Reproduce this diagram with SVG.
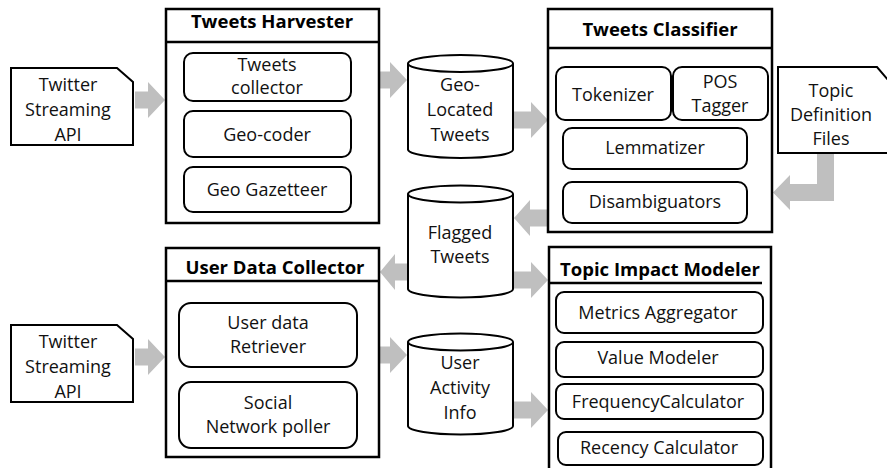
<svg xmlns="http://www.w3.org/2000/svg" width="887" height="468" viewBox="0 0 887 468">
<style>
  .outer { fill: #fff; stroke: #000; stroke-width: 2.5; }
  .inner { fill: #fff; stroke: #000; stroke-width: 2; }
  .line { stroke: #000; stroke-width: 2.5; fill: none; }
  .db { fill: #fff; stroke: #000; stroke-width: 2; }
  .arrow { fill: #BFBFBF; stroke: none; }
  text { font-family: "Open Sans", "Noto Sans", "Liberation Sans", sans-serif; font-size: 18px; fill: #111; text-anchor: middle; }
  .title { font-weight: bold; font-size: 18.5px; fill: #000; }
</style>
<rect width="887" height="468" fill="#fff"/>

<g id="connectors">
  <polygon class="arrow" points="135,91.5 148,91.5 148,82 165,100 148,118 148,108.5 135,108.5"/>
  <polygon class="arrow" points="380,71.5 390,71.5 390,62 407,80 390,98 390,88.5 380,88.5"/>
  <polygon class="arrow" points="514,111.5 531,111.5 531,102 548,120 531,138 531,128.5 514,128.5"/>
  <polygon class="arrow" points="548,209.5 530,209.5 530,200 514,218 530,236 530,226.5 548,226.5"/>
  <polygon class="arrow" points="408,263.5 395,263.5 395,254 380,272 395,290 395,280.5 408,280.5"/>
  <polygon class="arrow" points="514,271.5 531,271.5 531,262 548,280 531,298 531,288.5 514,288.5"/>
  <polygon class="arrow" points="135,348.5 148,348.5 148,339 165,357 148,375 148,365.5 135,365.5"/>
  <polygon class="arrow" points="380,346.5 390,346.5 390,337 407,355 390,373 390,363.5 380,363.5"/>
  <polygon class="arrow" points="514,401.5 531,401.5 531,392 548,410 531,428 531,418.5 514,418.5"/>
  <polygon class="arrow" points="817,153 834,153 834,201 790,201 790,210 773,192.5 790,175 790,184 817,184"/>
</g>

<g id="twitter-api-1">
  <path class="inner" d="M11,68 H117 L133,82 V145 H11 Z"/>
  <text x="68" y="91">Twitter</text>
  <text x="68" y="116">Streaming</text>
  <text x="68" y="141">API</text>
</g>

<g id="tweets-harvester">
  <rect class="outer" x="166" y="9" width="213" height="214"/>
  <line class="line" x1="166" y1="42" x2="379" y2="42"/>
  <text class="title" x="272" y="28">Tweets Harvester</text>
  <rect class="inner" x="184" y="53" width="167" height="48" rx="9"/>
  <text x="267" y="71">Tweets</text>
  <text x="267" y="94">collector</text>
  <rect class="inner" x="184" y="111" width="167" height="46" rx="9"/>
  <text x="267" y="141">Geo-coder</text>
  <rect class="inner" x="184" y="167" width="167" height="45" rx="9"/>
  <text x="267" y="196">Geo Gazetteer</text>
</g>

<g id="geo-located-tweets">
  <path class="db" d="M408,63.5 V149.5 A52.5,8.5 0 0 0 513,149.5 V63.5"/>
  <ellipse class="db" cx="460.5" cy="63.5" rx="52.5" ry="8.5"/>
  <text x="460" y="91">Geo-</text>
  <text x="460" y="116">Located</text>
  <text x="460" y="141">Tweets</text>
</g>

<g id="tweets-classifier">
  <rect class="outer" x="548" y="9" width="224" height="223"/>
  <line class="line" x1="548" y1="48" x2="772" y2="48"/>
  <text class="title" x="660" y="36">Tweets Classifier</text>
  <rect class="inner" x="556" y="67" width="115" height="53" rx="9"/>
  <text x="613" y="101">Tokenizer</text>
  <rect class="inner" x="673" y="67" width="95" height="53" rx="9"/>
  <text x="720" y="88">POS</text>
  <text x="720" y="112">Tagger</text>
  <rect class="inner" x="563" y="128" width="184" height="41" rx="9"/>
  <text x="655" y="154">Lemmatizer</text>
  <rect class="inner" x="563" y="182" width="184" height="41" rx="9"/>
  <text x="655" y="208">Disambiguators</text>
</g>

<g id="topic-definition-files">
  <path class="inner" d="M778,67 H877 L888,80 V153 H778 Z"/>
  <text x="831" y="97">Topic</text>
  <text x="831" y="121">Definition</text>
  <text x="831" y="145">Files</text>
</g>

<g id="flagged-tweets">
  <path class="db" d="M408,194 V289 A52.5,8.5 0 0 0 513,289 V194"/>
  <ellipse class="db" cx="460.5" cy="194" rx="52.5" ry="8.5"/>
  <text x="460" y="239">Flagged</text>
  <text x="460" y="263">Tweets</text>
</g>

<g id="twitter-api-2">
  <path class="inner" d="M11,325 H117 L133,339 V402 H11 Z"/>
  <text x="68" y="348">Twitter</text>
  <text x="68" y="373">Streaming</text>
  <text x="68" y="398">API</text>
</g>

<g id="user-data-collector">
  <rect class="outer" x="166" y="248" width="213" height="209"/>
  <line class="line" x1="166" y1="281" x2="379" y2="281"/>
  <text class="title" x="275" y="274">User Data Collector</text>
  <rect class="inner" x="179" y="303" width="178" height="64" rx="12"/>
  <text x="268" y="329">User data</text>
  <text x="268" y="353">Retriever</text>
  <rect class="inner" x="179" y="382" width="178" height="66" rx="12"/>
  <text x="268" y="409">Social</text>
  <text x="268" y="433">Network poller</text>
</g>

<g id="user-activity-info">
  <path class="db" d="M408,342 V426 A52.5,8.5 0 0 0 513,426 V342"/>
  <ellipse class="db" cx="460.5" cy="342" rx="52.5" ry="8.5"/>
  <text x="460" y="369">User</text>
  <text x="460" y="394">Activity</text>
  <text x="460" y="419">Info</text>
</g>

<g id="topic-impact-modeler">
  <path class="line" d="M549,472 V247 H771 V472"/>
  <line class="line" x1="549" y1="283" x2="762" y2="283"/>
  <text class="title" x="660" y="276">Topic Impact Modeler</text>
  <rect class="inner" x="556" y="292" width="207" height="41" rx="8"/>
  <text x="658" y="319">Metrics Aggregator</text>
  <rect class="inner" x="556" y="342" width="207" height="35" rx="8"/>
  <text x="658" y="364">Value Modeler</text>
  <rect class="inner" x="556" y="384" width="207" height="35" rx="8"/>
  <text x="658" y="408">FrequencyCalculator</text>
  <rect class="inner" x="558" y="432" width="205" height="33" rx="8"/>
  <text x="659" y="454">Recency Calculator</text>
</g>
</svg>
